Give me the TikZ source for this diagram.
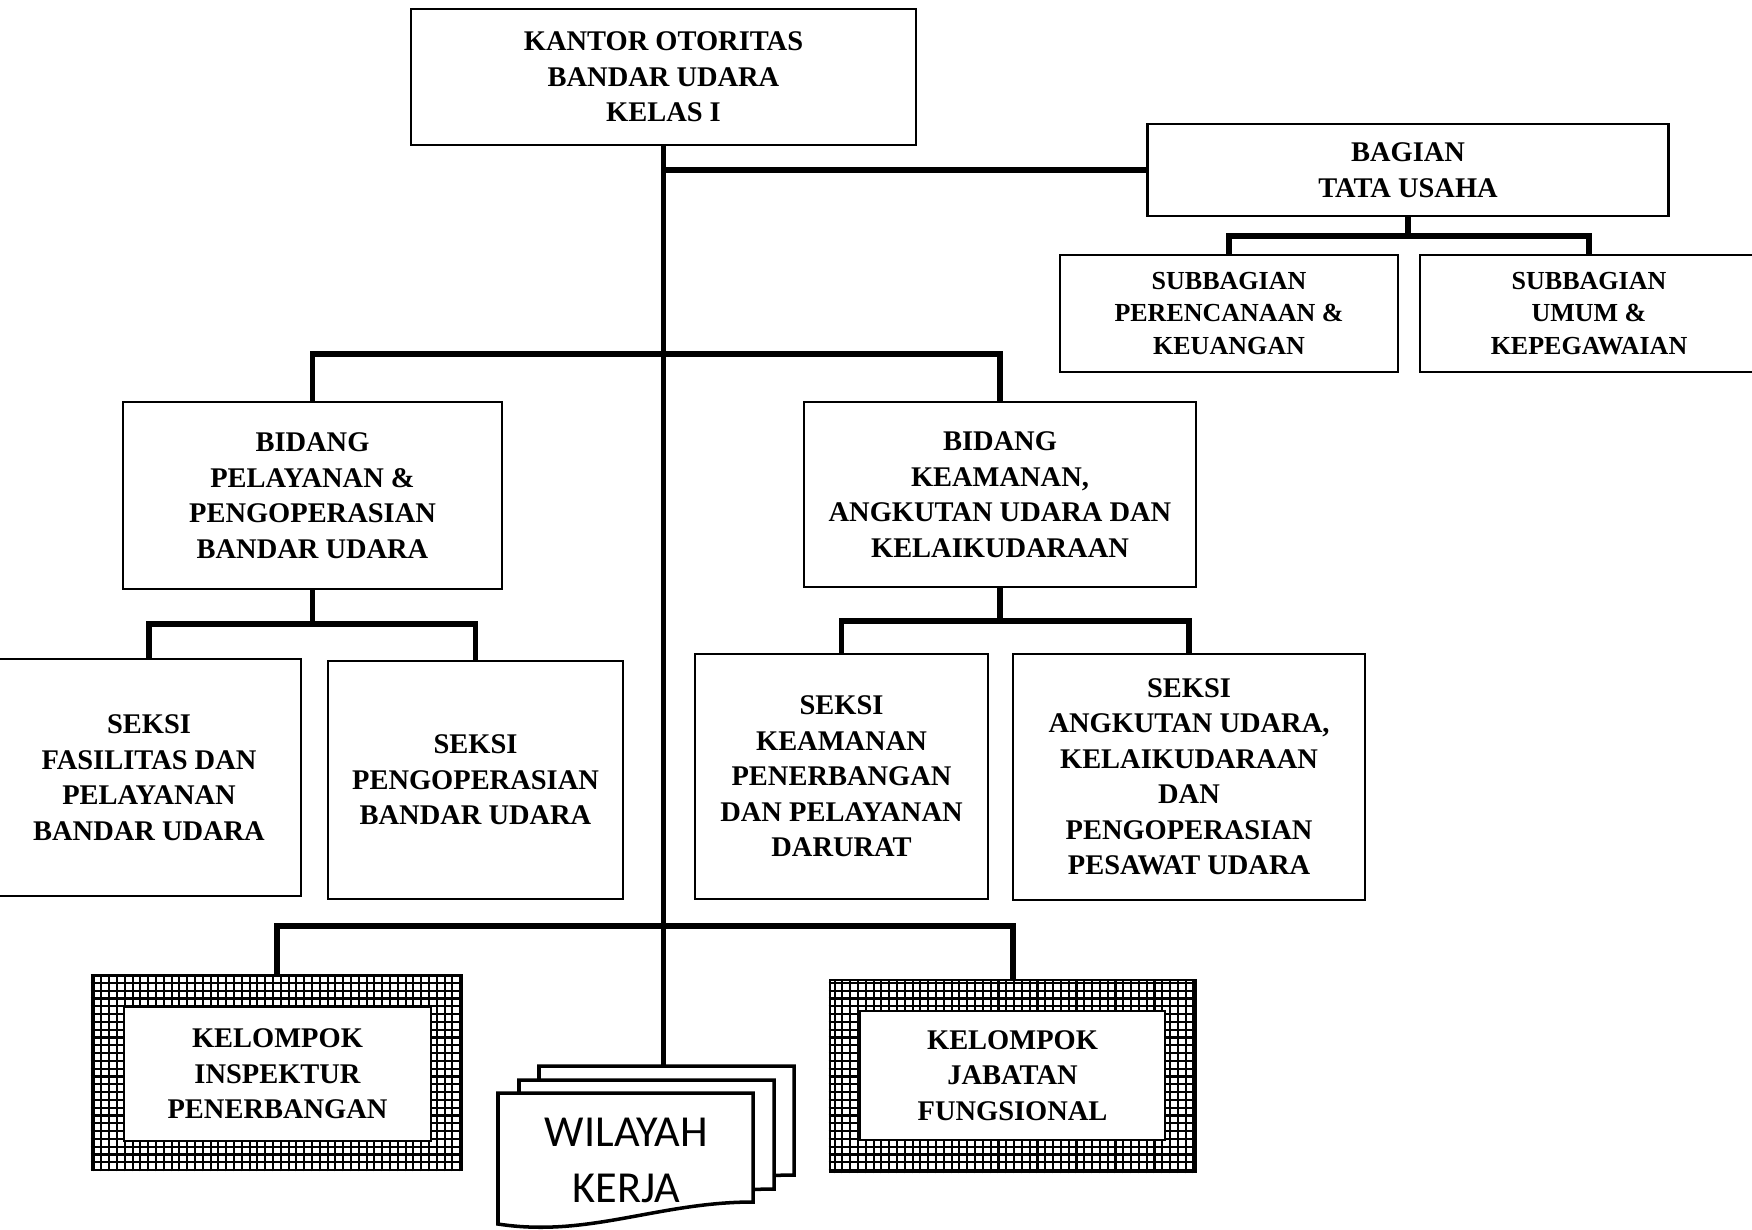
\documentclass[tikz,border=0pt]{standalone}
\usepackage{fontspec}
\setmainfont{Liberation Serif}
\newfontfamily\wkfont{Carlito}
\usepackage{tikz,xcolor}
\tikzstyle{office} = [draw, line width=0.7pt, fill=white, align=center, inner sep=1pt,
    font=\bfseries\fontsize{8.1}{10.1}\selectfont]
\tikzset{suboffice/.style={office, font=\bfseries\fontsize{7.4}{9.2}\selectfont},
    link/.style={line width=1.7pt},
    gridbox/.style={draw, line width=0.8pt},
    gridlines/.style={draw=grid line, line width=0.6pt, step=0.078cm},
    page/.pic={\draw[draw, fill=white, line width=1pt] (0,0) -- (2.55,0) -- (2.55,1.09)
        .. controls (1.6,1.09) and (0.9,1.45) .. (0,1.31) -- cycle;}}

\begin{document}
\begin{tikzpicture}[y=-1cm]
    % Page frame
    \fill[white] (0,0) rectangle (17.52,12.29);
    \useasboundingbox (0,0) rectangle (17.52,12.29);
    \colorlet{grid line}{black}
    %
    \node[office, minimum width=5.05cm, minimum height=1.36cm] (kantor) at (6.635,0.77)
        {KANTOR OTORITAS\\BANDAR UDARA\\KELAS I};
    \node[office, minimum width=5.21cm, minimum height=0.92cm] (bagian) at (14.08,1.70)
        {BAGIAN\\TATA USAHA};
    \node[suboffice, minimum width=3.38cm, minimum height=1.17cm] (subRenc) at (12.29,3.135)
        {SUBBAGIAN\\PERENCANAAN \&\\KEUANGAN};
    \node[suboffice, minimum width=3.38cm, minimum height=1.17cm] (subUmum) at (15.89,3.135)
        {SUBBAGIAN\\UMUM \&\\KEPEGAWAIAN};
    % Bidang and their seksi
    \node[office, minimum width=3.79cm, minimum height=1.87cm] (bidPel) at (3.125,4.955)
        {BIDANG\\PELAYANAN \&\\PENGOPERASIAN\\BANDAR UDARA};
    \node[office, minimum width=3.92cm, minimum height=1.85cm] (bidKeam) at (10.00,4.945)
        {BIDANG\\KEAMANAN,\\ANGKUTAN UDARA DAN\\KELAIKUDARAAN};
    \node[office, minimum width=3.04cm, minimum height=2.37cm] (seksiFas) at (1.49,7.775)
        {SEKSI\\FASILITAS DAN\\PELAYANAN\\BANDAR UDARA};
    \node[office, minimum width=2.95cm, minimum height=2.38cm] (seksiOps) at (4.755,7.80)
        {SEKSI\\PENGOPERASIAN\\BANDAR UDARA};
    \node[office, minimum width=2.93cm, minimum height=2.45cm] (seksiKeam) at (8.415,7.765)
        {SEKSI\\KEAMANAN\\PENERBANGAN\\DAN PELAYANAN\\DARURAT};
    \node[office, minimum width=3.52cm, minimum height=2.46cm] (seksiAngk) at (11.89,7.77)
        {SEKSI\\ANGKUTAN UDARA,\\KELAIKUDARAAN\\DAN\\PENGOPERASIAN\\PESAWAT UDARA};
    % Kelompok with grid frames
    \node[gridbox, minimum width=3.70cm, minimum height=1.94cm] (kelInsp) at (2.77,10.73) {};
    \node[gridbox, minimum width=3.66cm, minimum height=1.92cm] (kelJab) at (10.13,10.76) {};
    \foreach \k in {kelInsp,kelJab} {
        \begin{scope}
        \clip (\k.south west) rectangle (\k.north east);
        \draw[gridlines] (\k.south west) grid (\k.north east);
        \end{scope}
    }
    \node[office, minimum width=3.07cm, minimum height=1.34cm] (kelInspIn) at (2.775,10.74)
        {KELOMPOK\\INSPEKTUR\\PENERBANGAN};
    \node[office, minimum width=3.05cm, minimum height=1.29cm] (kelJabIn) at (10.125,10.755)
        {KELOMPOK\\JABATAN\\FUNGSIONAL};
    %
    \coordinate (wkTop) at (kantor.south |- 0,10.66);
    \draw[link] (kantor.south) -- (wkTop);
    \draw[link] (kantor.south |- bagian.west) -- (bagian.west);
    \draw[link] (bagian.south) -- ++(0,0.19) coordinate (busTU);
    \draw[link] (subRenc.north) |- (busTU) -| (subUmum.north);
    \draw[link] (bidPel.north) -- ++(0,-0.47) -| (bidKeam.north);
    \draw[link] (bidPel.south) -- ++(0,0.34) coordinate (busPel);
    \draw[link] (seksiFas.north) |- (busPel) -| (seksiOps.north);
    \draw[link] (bidKeam.south) -- ++(0,0.33) coordinate (busKeam);
    \draw[link] (seksiKeam.north) |- (busKeam) -| (seksiAngk.north);
    \draw[link] (kelInsp.north) -- ++(0,-0.49) -| (kelJab.north);
    % Wilayah kerja, stacked pages
    \pic at (5.39,10.66) {page};
    \pic at (5.19,10.80) {page};
    \pic at (4.98,10.93) {page};
    \node[font=\wkfont\fontsize{12.6}{15.9}\selectfont, align=center, inner sep=0pt]
        (wilayah) at (6.265,11.60) {WILAYAH\\KERJA};
\end{tikzpicture}
\end{document}
